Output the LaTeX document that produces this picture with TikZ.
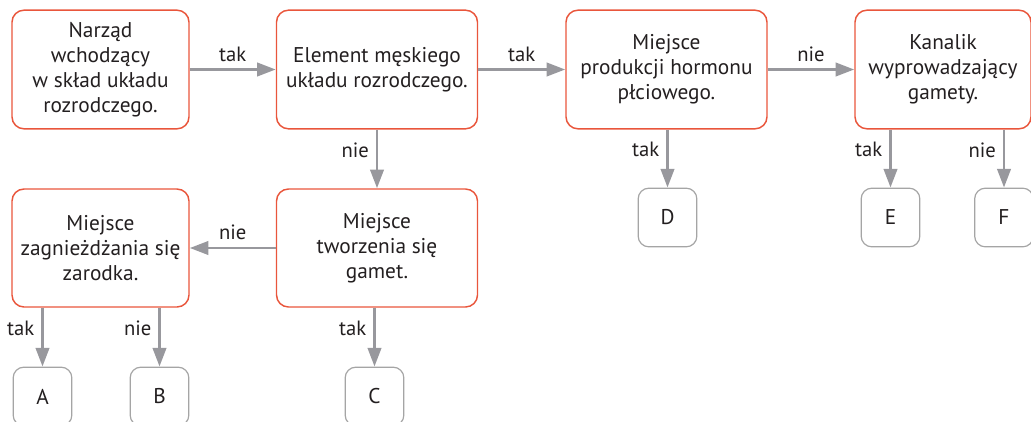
\documentclass[tikz,border=0pt]{standalone}
\usepackage{fontspec}
\setmainfont{PT Sans}
\usetikzlibrary{positioning,arrows.meta}
\definecolor{boxred}{RGB}{233,86,60}
\definecolor{arrgray}{RGB}{152,152,157}
\definecolor{leafgray}{RGB}{165,165,165}
\definecolor{txt}{RGB}{35,31,32}

\begin{document}
\begin{tikzpicture}[x=0.75pt,y=-0.75pt,
    font=\fontsize{16}{18.75}\selectfont, text=txt,
    box/.style={draw=boxred, line width=1.1pt, rounded corners=9pt, align=center,
        minimum height=89pt, inner sep=2pt, execute at begin node={\rule{0pt}{19pt}}},
    leaf/.style={draw=leafgray, line width=0.9pt, rounded corners=8pt,
        minimum width=44pt, minimum height=44pt},
    arr/.style={draw=arrgray, line width=2.2pt, -{Triangle[length=14pt,width=10pt]}},
    lab/.style={font=\fontsize{15.5}{16}\selectfont, inner sep=2pt}]
    \useasboundingbox (0,0) rectangle (1031,421);
    % Decision boxes
    \node[box, minimum width=132.75pt] (organ) at (100.5,69.5) {Narząd\\wchodzący\\w skład układu\\rozrodczego.};
    \node[box, minimum width=150.75pt] (male) at (377,69.5) {Element męskiego\\układu rozrodczego.};
    \node[box, minimum width=150.75pt] (hormone) at (666.5,69.5) {Miejsce\\produkcji hormonu\\płciowego.};
    \node[box, minimum width=132pt] (duct) at (943,69.5) {Kanalik\\wyprowadzający\\gamety.};
    \node[box, minimum width=150.75pt, minimum height=88.5pt] (gamete) at (377,248) {Miejsce\\tworzenia się\\gamet.};
    \node[box, minimum width=132.75pt, minimum height=88.5pt] (nest) at (100.5,248) {Miejsce\\zagnieżdżania się\\zarodka.};
    % Answers
    \node[leaf] (A) at (42.5,396.5) {A};
    \node[leaf] (B) at (159.5,396.5) {B};
    \node[leaf] (C) at (374.5,396.5) {C};
    \node[leaf] (D) at (667.5,217.5) {D};
    \node[leaf] (E) at (890.5,217.5) {E};
    \node[leaf] (F) at (1004,217.5) {F};
    % Arrows
    \draw[arr] (organ) -- node[lab, above=3pt] {tak} (male);
    \draw[arr] (male) -- node[lab, above=3pt] {tak} (hormone);
    \draw[arr] (hormone) -- node[lab, above=3pt] {nie} (duct);
    \draw[arr] (male.south -| gamete.north) -- node[lab, left=3pt, pos=0.35] {nie} (gamete.north);
    \draw[arr] (gamete) -- node[lab, above=3pt] {nie} (nest);
    \draw[arr] (A.north |- nest.south) -- node[lab, left=3pt, pos=0.35] {tak} (A.north);
    \draw[arr] (B.north |- nest.south) -- node[lab, left=3pt, pos=0.35] {nie} (B.north);
    \draw[arr] (C.north |- gamete.south) -- node[lab, left=3pt, pos=0.35] {tak} (C.north);
    \draw[arr] (D.north |- hormone.south) -- node[lab, left=3pt, pos=0.35] {tak} (D.north);
    \draw[arr] (E.north |- duct.south) -- node[lab, left=3pt, pos=0.35] {tak} (E.north);
    \draw[arr] (F.north |- duct.south) -- node[lab, left=3pt, pos=0.35] {nie} (F.north);
\end{tikzpicture}
\end{document}
